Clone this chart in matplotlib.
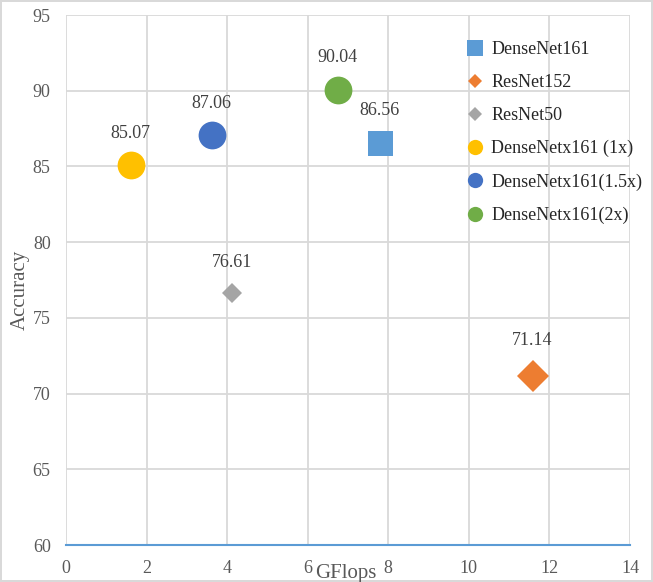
import matplotlib.pyplot as plt

# model names, GFlops, accuracy
models = ["DenseNet161", "ResNet152", "ResNet50",
          "DenseNetx161 (1x)", "DenseNetx161(1.5x)", "DenseNetx161(2x)"]
gflops = [7.79, 11.58, 4.12, 1.61, 3.62, 6.75]
accuracy = [86.56, 71.14, 76.61, 85.07, 87.06, 90.04]

colors = ["#5B9BD5", "#ED7D31", "#A5A5A5", "#FFC000", "#4472C4", "#70AD47"]
markers = ["s", "D", "D", "o", "o", "o"]
sizes = [18, 16.5, 10.2, 20, 20, 20]
legend_sizes = [11, 7.6, 7.6, 11, 11, 11]
label_offsets = [17, 20, 16, 17, 17, 17]

plt.rcParams["font.family"] = ["Liberation Serif", "DejaVu Serif"]

fig = plt.figure(figsize=(6.53, 5.82), dpi=100)
fig.patch.set_edgecolor("#d9d9d9")
fig.patch.set_linewidth(1.5)
ax = fig.add_axes([66 / 653, 37 / 582, 564 / 653, 530 / 582])

for i in range(len(models)):
    ax.plot(gflops[i], accuracy[i], linestyle="none", marker=markers[i],
            markersize=sizes[i], color=colors[i], label=models[i],
            markeredgewidth=0, zorder=3)
    ax.annotate("%.2f" % accuracy[i], (gflops[i], accuracy[i]),
                xytext=(0, label_offsets[i]), textcoords="offset points",
                ha="center", va="bottom", fontsize=13, color="#404040")

ax.set_xlim(0, 14)
ax.set_ylim(60, 95)
ax.set_xticks(range(0, 15, 2))
ax.set_yticks(range(60, 96, 5))
ax.grid(True, color="#d9d9d9", linewidth=1.3, zorder=0)
ax.set_axisbelow(True)
for s in ["top", "left", "right"]:
    ax.spines[s].set_visible(False)
ax.spines["bottom"].set_color("#5B9BD5")
ax.spines["bottom"].set_linewidth(1.5)
ax.tick_params(length=0, labelsize=13, labelcolor="#595959")
ax.tick_params(axis="x", pad=11)
ax.tick_params(axis="y", pad=11)

ax.set_xlabel("GFlops", fontsize=15, color="#595959")
ax.xaxis.set_label_coords(0.497, -0.036)
ax.set_ylabel("Accuracy", fontsize=15, color="#595959")
ax.yaxis.set_label_coords(-0.064, 0.481)

leg = ax.legend(loc="upper left", bbox_to_anchor=(0.709, 0.95), frameon=False,
                fontsize=13, handlelength=1, handletextpad=0.4,
                labelspacing=0.88, borderpad=0, borderaxespad=0)
for h, ms in zip(leg.legend_handles, legend_sizes):
    h.set_markersize(ms)
for t in leg.get_texts():
    t.set_color("#262626")

fig.savefig("out.png", dpi=100)
